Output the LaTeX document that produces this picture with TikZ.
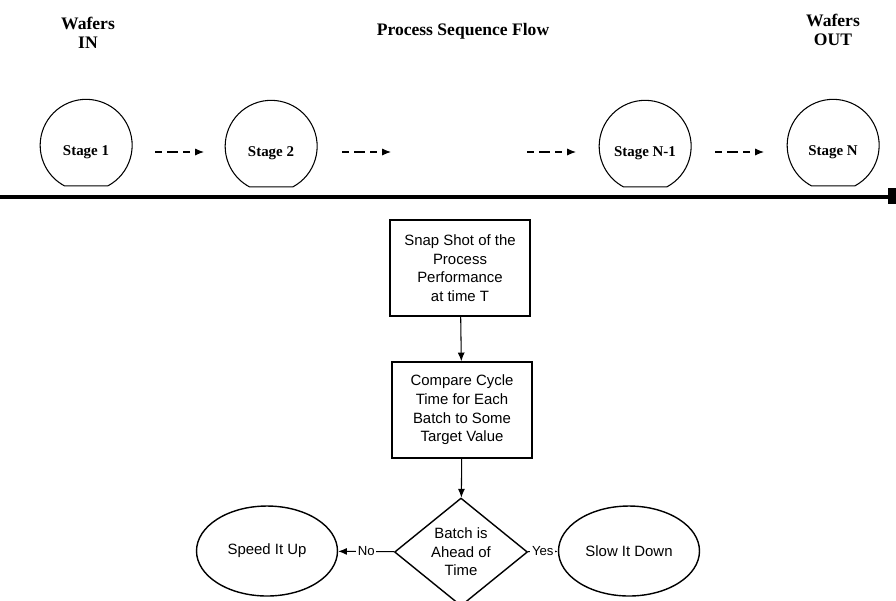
\documentclass[tikz,border=0pt]{standalone}
\usepackage{fontspec}
\setmainfont{Liberation Serif}
\newfontfamily\boxfont{Liberation Sans}
\usetikzlibrary{shapes.geometric,arrows.meta}
\tikzset{
  title/.style={font=\bfseries\fontsize{10}{11}\selectfont, align=center},
  stagetext/.style={font=\bfseries\fontsize{8.5}{10}\selectfont, circle, minimum size=1.84cm},
  flowbox/.style={draw, thick, minimum width=2.8cm, minimum height=1.92cm, align=center,
    font=\boxfont\fontsize{8.5}{10.6}\selectfont, inner sep=1pt},
  decide/.style={draw, thick, diamond, minimum width=2.66cm, minimum height=1.9cm, inner sep=0pt,
    align=center, font=\boxfont\fontsize{8.5}{10.6}\selectfont},
  outcome/.style={draw, thick, ellipse, minimum width=2.82cm, minimum height=1.8cm,
    font=\boxfont\fontsize{8.5}{10}\selectfont},
  flowarrow/.style={-{Latex[length=5pt,width=4pt]}, semithick, dash pattern=on 4pt off 3pt on 6pt off 3pt},
  link/.style={-{Latex[length=5pt,width=4pt]}, semithick},
  yesno/.style={fill=white, inner sep=1pt, font=\boxfont\fontsize{7.5}{9}\selectfont}
}
\begin{document}
\begin{tikzpicture}[x=0.02cm, y=-0.02cm]
\useasboundingbox (0,0) rectangle (896,600);
% headings
\node[title] (win) at (88,33) {Wafers\\IN};
\node[title] (flow) at (463,31) {Process Sequence Flow};
\node[title] (wout) at (833,30) {Wafers\\OUT};
% stages
\node[stagetext] (s1) at (86,152) {Stage 1};
\node[stagetext] (s2) at (271,153) {Stage 2};
\node[stagetext] (s3) at (645,153) {Stage N-1};
\node[stagetext] (s4) at (833,152) {Stage N};
\foreach \s in {s1,s2,s3,s4}
  \draw[semithick] ([yshift=0.14cm]\s.-62) arc[start angle=-62, end angle=242, radius=0.92cm] -- cycle;
\coordinate (a1) at (155,152);
\coordinate (b1) at (204,152);
\coordinate (a2) at (342,152);
\coordinate (b2) at (391,152);
\coordinate (a3) at (527,152);
\coordinate (b3) at (576,152);
\coordinate (a4) at (715,152);
\coordinate (b4) at (764,152);
\foreach \i in {1,...,4}
  \draw[flowarrow] (a\i) -- (b\i);
% base line
\coordinate (lineL) at (0,197);
\coordinate (lineR) at (893,197);
\draw[line width=2.4pt] (lineL) -- (lineR);
\fill ([xshift=-3pt,yshift=5pt]lineR) rectangle ([xshift=1.5pt,yshift=-4pt]lineR);
% control loop
\node[flowbox] (snap) at (460,268) {Snap Shot of the\\Process\\Performance\\at time T};
\node[flowbox] (cmp) at (462,410) {Compare Cycle\\Time for Each\\Batch to Some\\Target Value};
\node[decide] (ahead) at (461,552) {Batch is\\Ahead of\\Time};
\node[outcome] (fast) at (267,551) {Speed It Up};
\node[outcome] (slow) at (629,551) {Slow It Down};
\draw[link] (snap) -- (cmp);
\draw[link] (cmp) -- (ahead);
\draw[link] (ahead) -- node[yesno] {No} (fast);
\draw[link] (ahead) -- node[yesno] {Yes} (slow);
\end{tikzpicture}
\end{document}
